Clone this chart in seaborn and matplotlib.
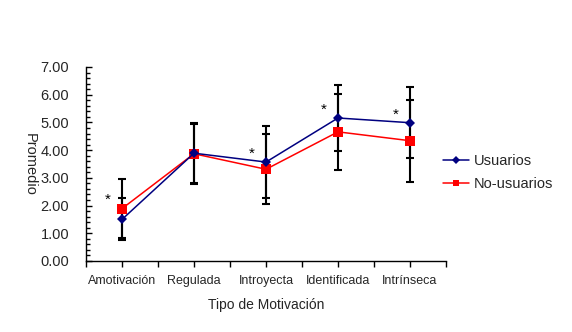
import numpy as np
import pandas as pd
import matplotlib
matplotlib.use("Agg")
import matplotlib.pyplot as plt
import seaborn as sns
from matplotlib.ticker import MultipleLocator, FormatStrFormatter
from matplotlib.lines import Line2D

categories = ["Amotivación", "Regulada", "Introyecta", "Identificada", "Intrínseca"]
usuarios = [1.50, 3.89, 3.57, 5.16, 4.99]
no_usuarios = [1.89, 3.87, 3.31, 4.66, 4.34]
sd_usuarios = [0.76, 1.08, 1.29, 1.18, 1.28]
sd_no_usuarios = [1.06, 1.08, 1.26, 1.38, 1.48]
significant = [True, False, True, True, True]

sns.set_theme(style="white")
plt.rcParams["font.family"] = ["Liberation Sans", "DejaVu Sans"]

df = pd.DataFrame({
    "Tipo de Motivación": categories * 2,
    "Promedio": usuarios + no_usuarios,
    "Grupo": ["Usuarios"] * 5 + ["No-usuarios"] * 5,
})

fig = plt.figure(figsize=(5.72, 3.32), dpi=100)
ax = fig.add_axes([86 / 572, 1 - 261 / 332, 360 / 572, 194 / 332])

x = np.arange(len(categories))
ax.errorbar(x, no_usuarios, yerr=sd_no_usuarios, fmt="none", ecolor="black",
            elinewidth=1.5, capsize=3, capthick=1.5, zorder=1)
ax.errorbar(x, usuarios, yerr=sd_usuarios, fmt="none", ecolor="black",
            elinewidth=1.5, capsize=3, capthick=1.5, zorder=1)

palette = {"Usuarios": "#000080", "No-usuarios": "#FF0000"}
markers = {"Usuarios": "D", "No-usuarios": "s"}
df["xpos"] = np.tile(x, 2)
sns.lineplot(data=df, x="xpos", y="Promedio", hue="Grupo", style="Grupo",
             palette=palette, markers=markers, dashes=False, linewidth=1.1,
             markeredgewidth=0, ax=ax, legend=False, zorder=3,
             sort=False)
for line in ax.get_lines():
    c = matplotlib.colors.to_hex(line.get_color()).lower()
    if c == "#000080":
        line.set_markersize(5)
        line.set_zorder(4)
    elif c == "#ff0000":
        line.set_markersize(7)

for i, sig in enumerate(significant):
    if sig:
        top = max(usuarios[i], no_usuarios[i])
        ax.text(i - 0.2, top + 0.05, "*", ha="center", va="bottom", fontsize=11, color="black")

ax.set_xlim(-0.5, 4.5)
ax.set_ylim(0, 7)
ax.set_xticks(x)
ax.set_xticklabels(categories, fontsize=9)
ax.set_xticks(np.arange(-0.5, 5.0, 1.0), minor=True)
ax.yaxis.set_major_locator(MultipleLocator(1.0))
ax.yaxis.set_minor_locator(MultipleLocator(0.2))
ax.yaxis.set_major_formatter(FormatStrFormatter("%.2f"))
ax.tick_params(axis="x", which="both", direction="out", length=4, width=1, color="black",
               bottom=True, pad=6)
ax.tick_params(axis="y", which="major", direction="in", length=4, width=1, color="black",
               left=True, pad=12, labelsize=10.5)
ax.tick_params(axis="y", which="minor", direction="in", length=3, width=1, color="black",
               left=True)
for s in ["top", "right"]:
    ax.spines[s].set_visible(False)
for s in ["left", "bottom"]:
    ax.spines[s].set_color("black")
    ax.spines[s].set_linewidth(1)
ax.set_xlabel("Tipo de Motivación", fontsize=10, labelpad=8)
ax.set_ylabel("Promedio", fontsize=10.5, rotation=270, va="center")
ax.yaxis.set_label_coords((30 - 86) / 360, 0.5)

handles = [
    Line2D([], [], color="#000080", marker="D", markersize=4, markeredgewidth=0, linewidth=1.1),
    Line2D([], [], color="#FF0000", marker="s", markersize=5, markeredgewidth=0, linewidth=1.1),
]
fig.legend(handles, ["Usuarios", "No-usuarios"], loc="upper left",
           bbox_to_anchor=(430 / 572, 1 - 141 / 332), frameon=False,
           fontsize=10.5, handlelength=1.8, labelspacing=0.6, handletextpad=0.3)

fig.savefig("out.png", dpi=100)
